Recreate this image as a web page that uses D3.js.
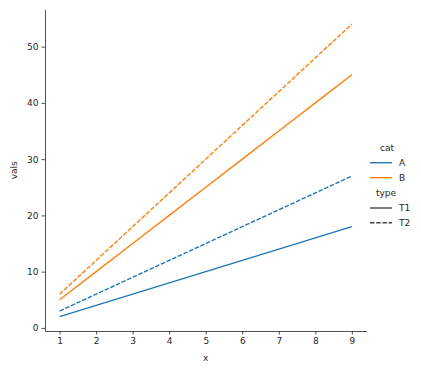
<!DOCTYPE html>
<html><head><meta charset="utf-8">
<script src="https://cdn.jsdelivr.net/npm/d3@7"></script>
<style>body{margin:0;background:#fff;} text{font-family:"DejaVu Sans",sans-serif;}</style>
</head><body><svg id="c" width="421" height="374"></svg>
<script>
const xs = [1,2,3,4,5,6,7,8,9];
const cats = ["A","B"];
const types = ["T1","T2"];
const valsA_T1 = [2,4,6,8,10,12,14,16,18];
const valsA_T2 = [3,6,9,12,15,18,21,24,27];
const valsB_T1 = [5,10,15,20,25,30,35,40,45];
const valsB_T2 = [6,12,18,24,30,36,42,48,54];
const xTicks = [1,2,3,4,5,6,7,8,9];
const yTicks = [0,10,20,30,40,50];
const colors = {A:"#1f77b4", B:"#ff7f0e"};
const dashes = {T1:null, T2:"4.5,1.7"};

const series = [
  {cat:"A", type:"T1", vals:valsA_T1},
  {cat:"A", type:"T2", vals:valsA_T2},
  {cat:"B", type:"T1", vals:valsB_T1},
  {cat:"B", type:"T2", vals:valsB_T2}
];

const svg = d3.select("#c");
const L = 45, R = 366.5, T = 9.5, B = 331;
const x = d3.scaleLinear().domain([0.6, 9.4]).range([L, R]);
const y = d3.scaleLinear().domain([-0.55, 56.6]).range([B, T]);

const fs = 9;
const xa = svg.append("g").attr("transform", `translate(0,${B})`)
  .call(d3.axisBottom(x).tickValues(xTicks).tickSize(3.5).tickPadding(3).tickSizeOuter(0).tickFormat(d3.format("d")));
const ya = svg.append("g").attr("transform", `translate(${L},0)`)
  .call(d3.axisLeft(y).tickValues(yTicks).tickSize(3.5).tickPadding(3).tickSizeOuter(0).tickFormat(d3.format("d")));
[xa, ya].forEach(a => {
  a.selectAll("text").attr("font-size", fs).attr("fill", "#262626").style("font-family","DejaVu Sans");
  a.selectAll("line").attr("stroke", "#262626").attr("stroke-width", 0.8);
  a.select(".domain").attr("stroke", "#262626").attr("stroke-width", 0.8);
});

svg.append("text").attr("x", (L+R)/2).attr("y", 361).attr("text-anchor","middle")
  .attr("font-size", fs).attr("fill","#262626").text("x");
svg.append("text").attr("transform", `translate(17,${(T+B)/2}) rotate(-90)`).attr("text-anchor","middle")
  .attr("font-size", fs).attr("fill","#262626").text("vals");

const line = d3.line().x((d,i) => x(xs[i])).y(d => y(d));
svg.append("g").selectAll("path").data(series).join("path")
  .attr("d", d => line(d.vals))
  .attr("fill","none")
  .attr("stroke", d => colors[d.cat])
  .attr("stroke-width", 1.4)
  .attr("stroke-dasharray", d => dashes[d.type]);

// legend
const lg = svg.append("g");
const lx1 = 370, lx2 = 392, tx = 399;
lg.append("text").attr("x", 387).attr("y", 151).attr("text-anchor","middle").attr("font-size", fs).attr("fill","#262626").text("cat");
cats.forEach((c,i) => {
  const yy = 162.7 + i*15;
  lg.append("line").attr("x1", lx1).attr("x2", lx2).attr("y1", yy).attr("y2", yy).attr("stroke", colors[c]).attr("stroke-width",1.4);
  lg.append("text").attr("x", tx).attr("y", yy+3.3).attr("font-size", fs).attr("fill","#262626").text(c);
});
lg.append("text").attr("x", 386).attr("y", 196).attr("text-anchor","middle").attr("font-size", fs).attr("fill","#262626").text("type");
types.forEach((t,i) => {
  const yy = 208 + i*14.7;
  lg.append("line").attr("x1", lx1).attr("x2", lx2).attr("y1", yy).attr("y2", yy).attr("stroke", "#444").attr("stroke-width",1.4).attr("stroke-dasharray", dashes[t]);
  lg.append("text").attr("x", tx).attr("y", yy+3.3).attr("font-size", fs).attr("fill","#262626").text(t);
});
</script></body></html>
